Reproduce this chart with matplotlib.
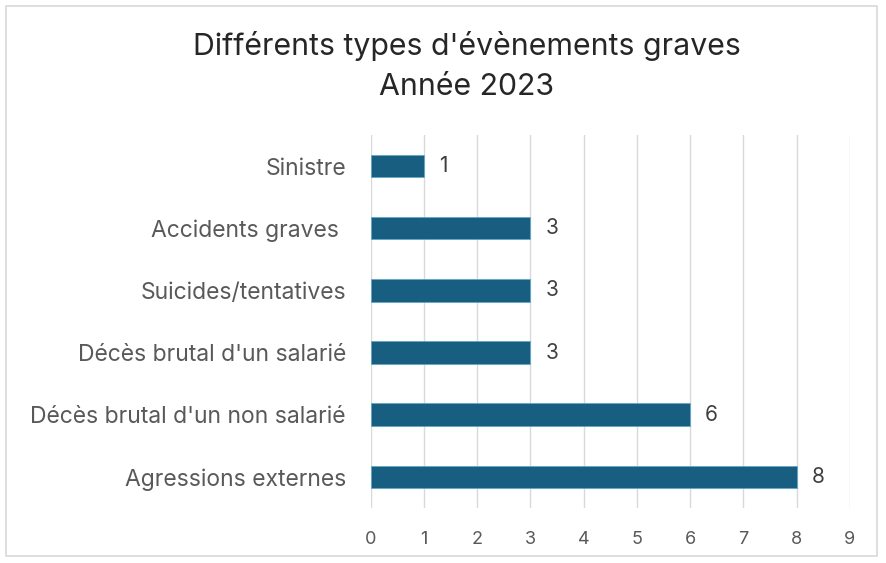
import matplotlib.pyplot as plt
from matplotlib.patches import Rectangle

categories = ["Agressions externes", "Décès brutal d'un non salarié", "Décès brutal d'un salarié",
              "Suicides/tentatives", "Accidents graves ", "Sinistre"]
values = [8, 6, 3, 3, 3, 1]
xticks = list(range(0, 10))

plt.rcParams['font.family'] = ['Inter', 'DejaVu Sans']

fig = plt.figure(figsize=(8.87, 5.63), dpi=100)
ax = fig.add_axes([0.418, 0.098, 0.540, 0.662])

# chart border
fig.patches.append(Rectangle((0.007, 0.012), 0.982, 0.978, transform=fig.transFigure,
                             fill=False, edgecolor='#d9d9d9', linewidth=1.2))

bars = ax.barh(range(len(categories)), values, height=0.36, color='#175e81',
               edgecolor='#5fa8c8', linewidth=0.6, zorder=3)
for i, v in enumerate(values):
    ax.text(v + 0.28, i, str(v), va='center', ha='left', fontsize=15, color='#404040')

ax.set_xlim(0, 9)
ax.set_ylim(-0.5, len(categories) - 0.5)
ax.set_xticks(xticks)
ax.set_yticks(range(len(categories)))
ax.set_yticklabels(categories)
ax.grid(axis='x', color='#d9d9d9', linewidth=1, zorder=0)
for s in ax.spines.values():
    s.set_visible(False)
ax.tick_params(axis='both', length=0, colors='#595959')
ax.tick_params(axis='x', labelsize=13, pad=17)
ax.tick_params(axis='y', labelsize=16.5, pad=18)

fig.text(0.526, 0.918, "Différents types d'évènements graves", ha='center', va='center',
         fontsize=21.8, color='#262626')
fig.text(0.526, 0.845, "Année 2023", ha='center', va='center', fontsize=21.8, color='#262626')

plt.savefig('out.png')
